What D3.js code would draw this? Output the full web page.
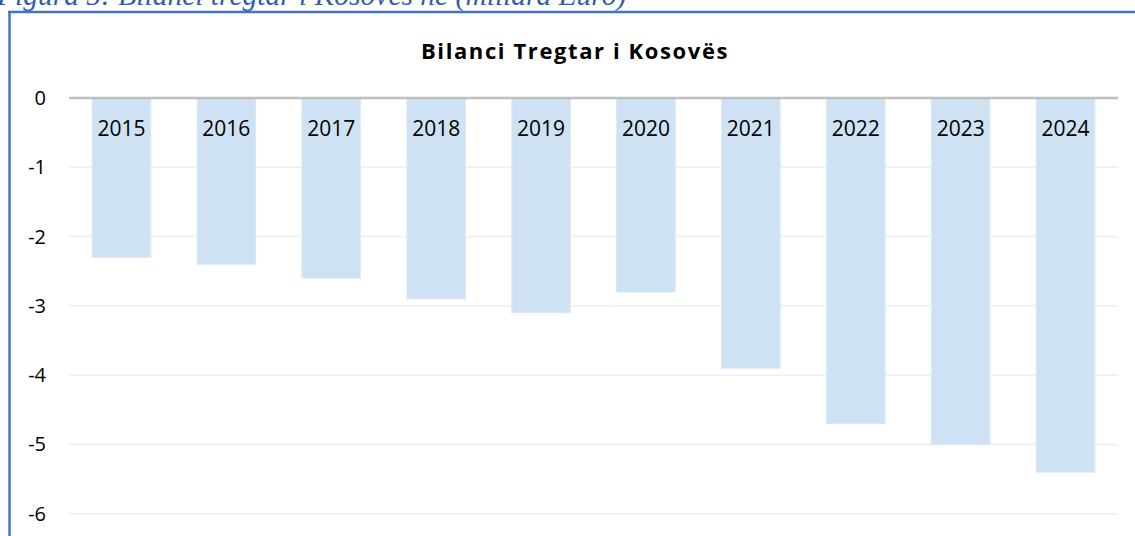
<!DOCTYPE html>
<html>
<head>
<meta charset="utf-8">
<script src="https://cdn.jsdelivr.net/npm/d3@7"></script>
<style>
  body { margin: 0; background: #fff; }
  svg { display: block; }
</style>
</head>
<body>
<svg id="chart" width="1135" height="536"></svg>
<script>
// data (billion euro)
var years = ["2015", "2016", "2017", "2018", "2019", "2020", "2021", "2022", "2023", "2024"];
var balance = [-2.3, -2.4, -2.6, -2.9, -3.1, -2.8, -3.9, -4.7, -5.0, -5.4];
var yTicks = [0, -1, -2, -3, -4, -5, -6];

var svg = d3.select("#chart");
var margin = {top: 98, left: 69, right: 17};
var width = 1135 - margin.left - margin.right;

// caption, mostly cut off at the top (as in the source document)
svg.append("text")
  .attr("x", -3)
  .attr("y", 5)
  .attr("font-family", "Liberation Serif, serif")
  .attr("font-style", "italic")
  .attr("font-size", 29.5)
  .attr("fill", "#2f5ea8")
  .text("Figura 5: Bilanci tregtar i Kosovës në (miliard Euro)");

// frame
svg.append("line").attr("x1", 8).attr("x2", 1135).attr("y1", 12).attr("y2", 12)
  .attr("stroke", "#4472c4").attr("stroke-width", 2.5);
svg.append("line").attr("x1", 9.5).attr("x2", 9.5).attr("y1", 11).attr("y2", 536)
  .attr("stroke", "#4472c4").attr("stroke-width", 2.5);

var x = d3.scaleBand()
  .domain(years)
  .range([margin.left, margin.left + width])
  .paddingInner(0.44)
  .paddingOuter(0.22);

var y = d3.scaleLinear()
  .domain([0, -6])
  .range([margin.top, margin.top + 6 * 69.3]);

// gridlines
svg.append("g")
  .selectAll("line")
  .data(yTicks.filter(function(d) { return d !== 0; }))
  .join("line")
  .attr("x1", margin.left)
  .attr("x2", margin.left + width)
  .attr("y1", function(d) { return y(d); })
  .attr("y2", function(d) { return y(d); })
  .attr("stroke", "#efefef")
  .attr("stroke-width", 1.5);

// y axis labels
var yAxis = d3.axisLeft(y).tickValues(yTicks).tickSize(0).tickPadding(0)
  .tickFormat(function(d) { return String(d); });
svg.append("g")
  .attr("transform", "translate(46,0)")
  .call(yAxis)
  .call(function(g) { g.select(".domain").remove(); })
  .selectAll("text")
  .attr("font-family", "Open Sans, sans-serif")
  .attr("font-size", 20)
  .attr("fill", "#000");

// bars
svg.append("g")
  .selectAll("rect")
  .data(years)
  .join("rect")
  .attr("x", function(d) { return x(d); })
  .attr("y", y(0))
  .attr("width", x.bandwidth())
  .attr("height", function(d, i) { return y(balance[i]) - y(0); })
  .attr("fill", "#cfe2f3")
  .attr("stroke", "#ddeaf6")
  .attr("stroke-width", 1);

// zero line
svg.append("line")
  .attr("x1", margin.left)
  .attr("x2", margin.left + width)
  .attr("y1", y(0))
  .attr("y2", y(0))
  .attr("stroke", "#bfbfbf")
  .attr("stroke-width", 2.5);

// category labels sit just under the zero line
svg.append("g")
  .selectAll("text")
  .data(years)
  .join("text")
  .attr("x", function(d) { return x(d) + x.bandwidth() / 2; })
  .attr("y", y(0) + 38)
  .attr("text-anchor", "middle")
  .attr("font-family", "Open Sans, sans-serif")
  .attr("font-size", 21)
  .attr("fill", "#000")
  .text(function(d) { return d; });

// title
svg.append("text")
  .attr("x", 575)
  .attr("y", 59)
  .attr("text-anchor", "middle")
  .attr("font-family", "Open Sans, sans-serif")
  .attr("font-weight", "bold")
  .attr("font-size", 22)
  .attr("letter-spacing", 1.6)
  .attr("fill", "#000")
  .text("Bilanci Tregtar i Kosovës");
</script>
</body>
</html>
